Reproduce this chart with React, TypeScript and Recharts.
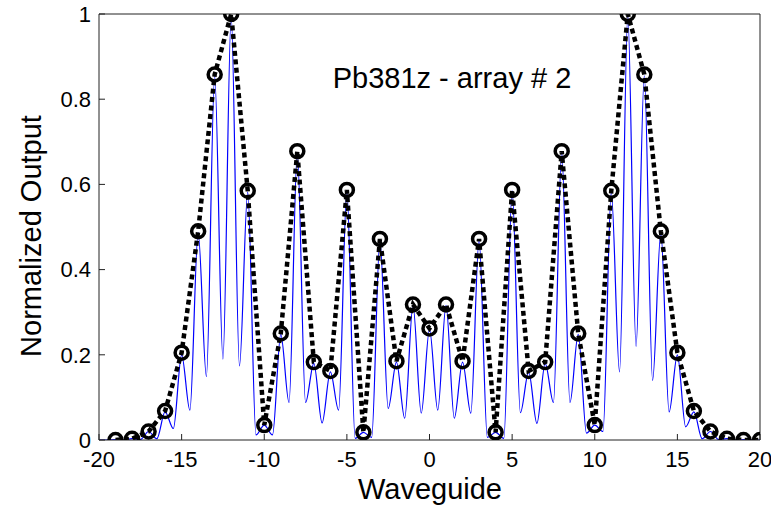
import React from 'react';
import { LineChart, Line, XAxis, YAxis, Customized } from 'recharts';

const waveguideIndex = [-19, -18, -17, -16, -15, -14, -13, -12, -11, -10, -9, -8, -7, -6, -5, -4, -3, -2, -1, 0, 1, 2, 3, 4, 5, 6, 7, 8, 9, 10, 11, 12, 13, 14, 15, 16, 17, 18, 19, 20];
const measuredOutput = [0.0, 0.003, 0.02, 0.068, 0.205, 0.49, 0.858, 1.0, 0.585, 0.035, 0.25, 0.678, 0.183, 0.162, 0.587, 0.018, 0.472, 0.185, 0.318, 0.262, 0.318, 0.185, 0.472, 0.018, 0.587, 0.162, 0.183, 0.678, 0.25, 0.035, 0.585, 1.0, 0.858, 0.49, 0.205, 0.068, 0.02, 0.003, 0.0, 0.0];

const modelPosition = [-20, -19.5, -19, -18.5, -18, -17.5, -17, -16.5, -16, -15.5, -15, -14.5, -14, -13.5, -13, -12.5, -12, -11.5, -11, -10.5, -10, -9.5, -9, -8.5, -8, -7.5, -7, -6.5, -6, -5.5, -5, -4.5, -4, -3.5, -3, -2.5, -2, -1.5, -1, -0.5, 0, 0.5, 1, 1.5, 2, 2.5, 3, 3.5, 4, 4.5, 5, 5.5, 6, 6.5, 7, 7.5, 8, 8.5, 9, 9.5, 10, 10.5, 11, 11.5, 12, 12.5, 13, 13.5, 14, 14.5, 15, 15.5, 16, 16.5, 17, 17.5, 18, 18.5, 19, 19.5, 20];
const modelOutput = [0, 0, 0.001, 0, 0.003, 0.001, 0.02, 0.003, 0.066, 0.027, 0.2, 0.07, 0.487, 0.149, 0.855, 0.19, 0.995, 0.174, 0.582, 0.012, 0.035, 0.012, 0.248, 0.088, 0.675, 0.088, 0.18, 0.04, 0.16, 0.07, 0.585, 0.004, 0.018, 0.006, 0.47, 0.074, 0.183, 0.051, 0.316, 0.063, 0.26, 0.07, 0.316, 0.051, 0.183, 0.063, 0.47, 0.006, 0.018, 0.004, 0.585, 0.064, 0.16, 0.039, 0.18, 0.088, 0.675, 0.088, 0.248, 0.016, 0.035, 0.02, 0.582, 0.16, 0.995, 0.22, 0.855, 0.14, 0.487, 0.066, 0.2, 0.031, 0.066, 0.003, 0.02, 0.001, 0.003, 0, 0.001, 0, 0];

const xTicks = [-20, -15, -10, -5, 0, 5, 10, 15, 20];
const yTicks = [0, 0.2, 0.4, 0.6, 0.8, 1];

const titleText = 'Pb381z - array # 2';
const xLabelText = 'Waveguide';
const yLabelText = 'Normalized Output';

const measuredData = waveguideIndex.map((x, i) => ({ x, y: measuredOutput[i] }));
const modelData = modelPosition.map((x, i) => ({ x, y: modelOutput[i] }));

const FONT = '"Liberation Sans", Arial, sans-serif';
const AXIS_COLOR = '#222';

const Texts = () => (
  <g fontFamily={FONT} fill="#000">
    <text x={452} y={88} fontSize={29} textAnchor="middle">{titleText}</text>
    <text x={430} y={499} fontSize={29} textAnchor="middle">{xLabelText}</text>
    <text x={41} y={236} fontSize={29} textAnchor="middle" transform="rotate(-90 41 236)">{yLabelText}</text>
  </g>
);

export default function App() {
  return (
    <div style={{ position: 'absolute', left: 0, top: 0, background: '#fff' }}>
      <LineChart width={771} height={510} margin={{ top: 0, right: 0, bottom: 0, left: 0 }}>
        <XAxis
          xAxisId="bottom"
          type="number"
          dataKey="x"
          orientation="bottom"
          domain={[-20, 20]}
          ticks={xTicks}
          allowDataOverflow
          height={70}
          tickSize={-6}
          tickMargin={17}
          axisLine={{ stroke: AXIS_COLOR, strokeWidth: 1 }}
          tickLine={{ stroke: AXIS_COLOR }}
          tick={{ fill: '#000', fontSize: 22, fontFamily: FONT }}
          interval={0}
        />
        <XAxis
          xAxisId="top"
          type="number"
          dataKey="x"
          orientation="top"
          domain={[-20, 20]}
          ticks={xTicks}
          allowDataOverflow
          height={14}
          tickSize={-6}
          axisLine={{ stroke: AXIS_COLOR, strokeWidth: 1 }}
          tickLine={{ stroke: AXIS_COLOR }}
          tick={false}
          interval={0}
        />
        <YAxis
          yAxisId="left"
          type="number"
          orientation="left"
          domain={[0, 1]}
          ticks={yTicks}
          allowDataOverflow
          width={99}
          tickSize={-6}
          tickMargin={14}
          axisLine={{ stroke: AXIS_COLOR, strokeWidth: 1 }}
          tickLine={{ stroke: AXIS_COLOR }}
          tick={{ fill: '#000', fontSize: 22, fontFamily: FONT }}
          tickFormatter={(v: number) => String(v)}
          interval={0}
        />
        <YAxis
          yAxisId="right"
          type="number"
          orientation="right"
          domain={[0, 1]}
          ticks={yTicks}
          allowDataOverflow
          width={11}
          tickSize={-6}
          axisLine={{ stroke: AXIS_COLOR, strokeWidth: 1 }}
          tickLine={{ stroke: AXIS_COLOR }}
          tick={false}
          interval={0}
        />
        <Line
          data={modelData}
          xAxisId="top"
          yAxisId="right"
          dataKey="y"
          type="monotone"
          stroke="#0000ff"
          strokeWidth={1.2}
          dot={false}
          activeDot={false}
          isAnimationActive={false}
        />
        <Line
          data={measuredData}
          xAxisId="bottom"
          yAxisId="left"
          dataKey="y"
          type="linear"
          stroke="#000"
          strokeWidth={4.5}
          strokeDasharray="5 3.5"
          dot={{ r: 6.5, stroke: '#000', strokeWidth: 3.5, fill: 'none', strokeDasharray: 'none' }}
          activeDot={false}
          isAnimationActive={false}
        />
        <Customized component={Texts} />
      </LineChart>
    </div>
  );
}
